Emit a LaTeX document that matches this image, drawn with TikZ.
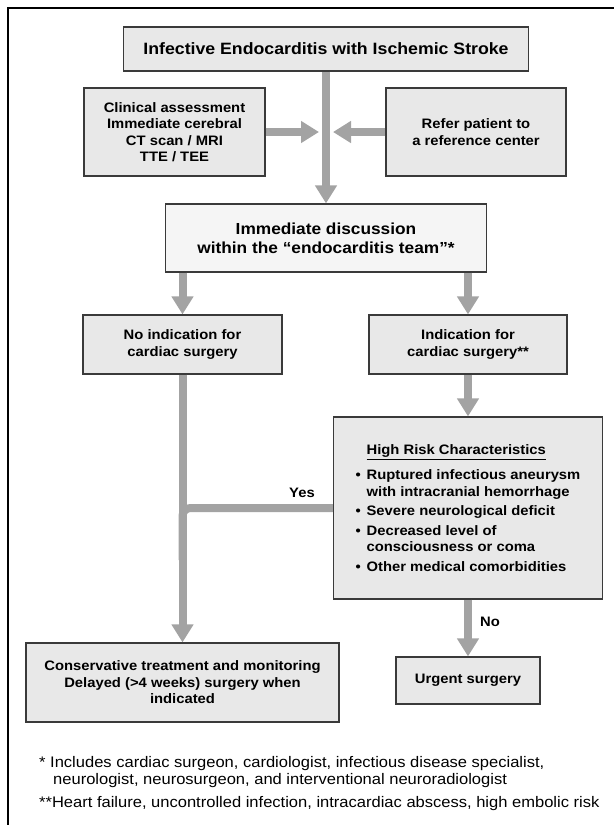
\documentclass[tikz,border=0pt]{standalone}
\usepackage{fontspec}
\setmainfont[FakeStretch=1.08]{Liberation Sans}
\usepackage{xcolor}
\usetikzlibrary{arrows.meta}

\definecolor{boxfill}{HTML}{E8E8E8}
\definecolor{discfill}{HTML}{F5F5F5}
\definecolor{boxline}{HTML}{3A3A3A}
\definecolor{arrowgray}{HTML}{A3A3A3}

\begin{document}
\begin{tikzpicture}[x=1pt, y=-1pt]
				\tikzstyle{infobox}=[draw=boxline, line width=1.2pt, fill=boxfill, text=black, align=center, inner sep=0pt, font=\fontsize{13.7}{16.5}\selectfont\bfseries]
				\tikzstyle{flow}=[draw=arrowgray, line width=8pt, -{Triangle[width=21pt,length=18pt]}]
				\tikzstyle{flowline}=[draw=arrowgray, line width=8pt]
				\tikzstyle{flowlabel}=[inner sep=0pt, font=\fontsize{13.7}{16.5}\selectfont\bfseries]
				
				\useasboundingbox (0,0) rectangle (614,825);
				\draw [line width=2pt] (8,825) -- (8,8) -- (614,8);
				
				\node (title) at (326,49) [infobox, minimum width=405pt, minimum height=44pt, font=\fontsize{16.4}{19}\selectfont\bfseries] {Infective Endocarditis with Ischemic Stroke};
				\node (clin) at (174.5,132) [infobox, minimum width=181pt, minimum height=88pt] {Clinical assessment\\Immediate cerebral\\CT scan / MRI\\TTE / TEE};
				\node (refer) at (476,132) [infobox, minimum width=180pt, minimum height=88pt] {Refer patient to\\a reference center};
				\node (disc) at (326,238) [infobox, fill=discfill, minimum width=321pt, minimum height=68pt, font=\fontsize{16}{19}\selectfont\bfseries] {Immediate discussion\\within the “endocarditis team”*};
				
				\node (noind) at (182.5,344.5) [infobox, minimum width=199pt, minimum height=59pt] {No indication for\\cardiac surgery};
				\node (ind) at (468,344.5) [infobox, minimum width=198pt, minimum height=59pt] {Indication for\\cardiac surgery**};
				\node (hr) at (468,508) [infobox, align=left, minimum width=269pt, minimum height=182pt] {\hspace*{11pt}\underline{High Risk Characteristics}\\[9pt]
					\makebox[11pt][l]{\textbullet}Ruptured infectious aneurysm\\
					\hspace*{11pt}with intracranial hemorrhage\\[3pt]
					\makebox[11pt][l]{\textbullet}Severe neurological deficit\\[3pt]
					\makebox[11pt][l]{\textbullet}Decreased level of\\
					\hspace*{11pt}consciousness or coma\\[3pt]
					\makebox[11pt][l]{\textbullet}Other medical comorbidities};
				
				\node (cons) at (182.5,682.5) [infobox, minimum width=313pt, minimum height=79pt] {Conservative treatment and monitoring\\Delayed (>4 weeks) surgery when\\indicated};
				\node (urgent) at (468,680.5) [infobox, minimum width=144pt, minimum height=47pt] {Urgent surgery};
				
				% arrows
				\coordinate (jl) at (319,132);
				\coordinate (jr) at (333,132);
				\coordinate (merge) at (182.5,560);
				\draw [flow] (title) -- (disc);
				\draw [flow] (clin) -- (jl);
				\draw [flow] (refer) -- (jr);
				\draw [flow] (disc.south -| noind.north) -- (noind);
				\draw [flow] (disc.south -| ind.north) -- (ind);
				\draw [flow] (ind) -- (hr);
				\draw [flow] (noind) -- (cons);
				\draw [flowline, rounded corners=8pt] (hr.west) -| (merge);
				\draw [flow] (hr) -- (urgent);
				
				\node (yeslbl) at (302,493) [flowlabel] {Yes};
				\node (nolbl) at (490,622) [flowlabel] {No};
				
				\node (notes) at (39,756) [anchor=north west, inner sep=0pt, align=left, font=\fontsize{15.3}{17}\selectfont] {* Includes cardiac surgeon, cardiologist, infectious disease specialist,\\\hspace*{14pt}neurologist, neurosurgeon, and interventional neuroradiologist\\[6pt]**Heart failure, uncontrolled infection, intracardiac abscess, high embolic risk};
				\end{tikzpicture}
\end{document}
